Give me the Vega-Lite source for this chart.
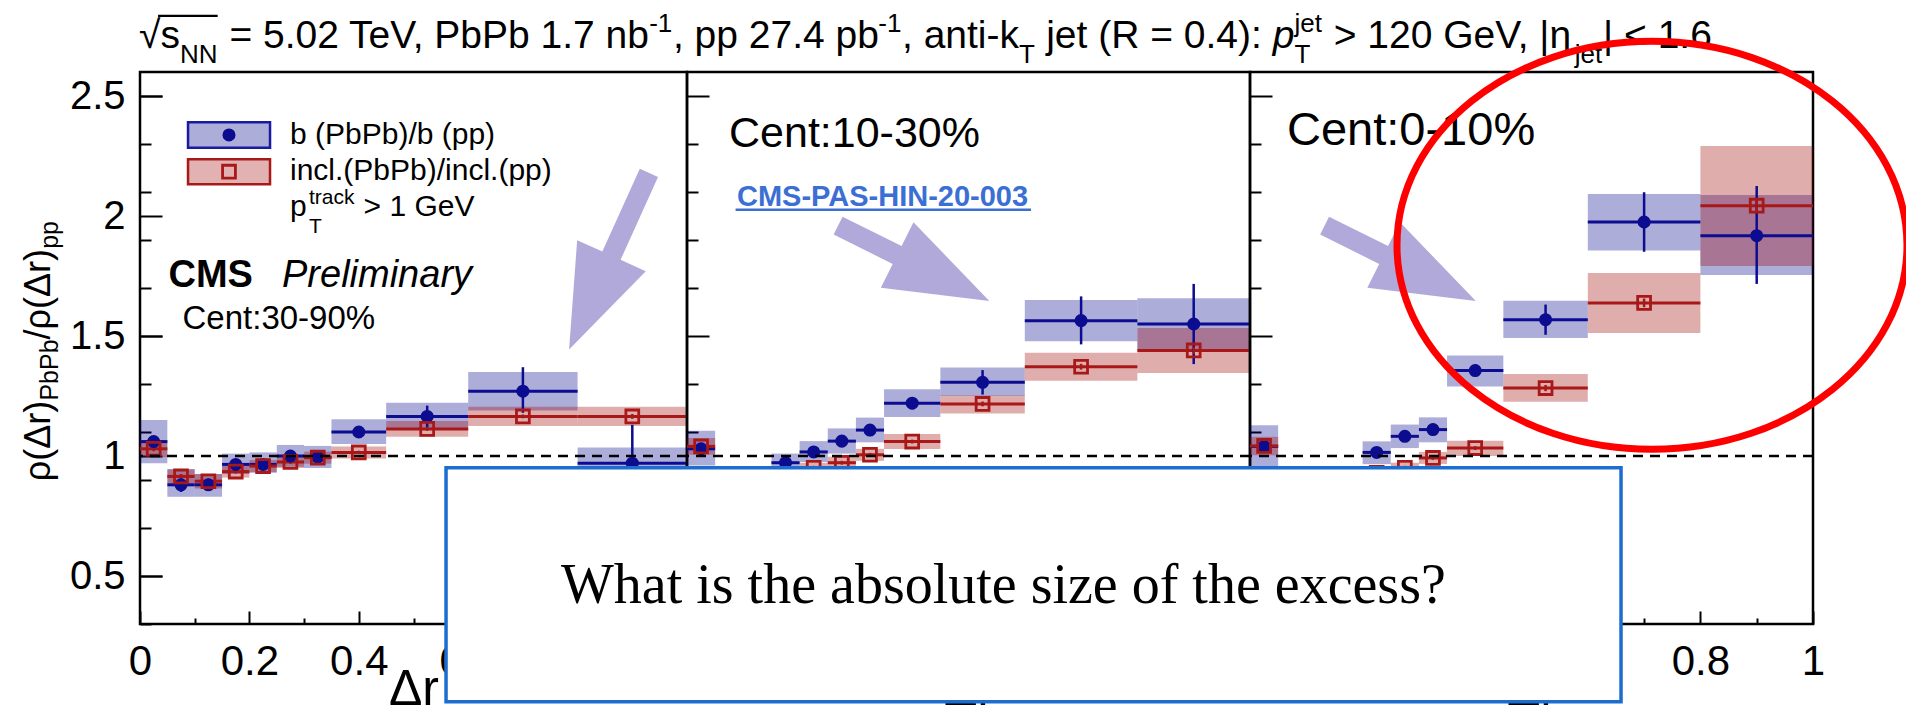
{
  "$schema": "https://vega.github.io/schema/vega-lite/v6.json",
  "background": "white",
  "padding": {"left": 19, "top": 9, "right": 0, "bottom": 0},
  "datasets": {
    "rho": [
      {"cent":"30-90%","sample":"b","x0":0,"x1":0.05,"mid":0.025,"ratio":1.06,"stat_lo":1.04,"stat_hi":1.08,"sys_lo":0.97,"sys_hi":1.15},
      {"cent":"30-90%","sample":"b","x0":0.05,"x1":0.1,"mid":0.075,"ratio":0.88,"stat_lo":0.85,"stat_hi":0.91,"sys_lo":0.83,"sys_hi":0.945},
      {"cent":"30-90%","sample":"b","x0":0.1,"x1":0.15,"mid":0.125,"ratio":0.88,"stat_lo":0.855,"stat_hi":0.905,"sys_lo":0.83,"sys_hi":0.925},
      {"cent":"30-90%","sample":"b","x0":0.15,"x1":0.2,"mid":0.175,"ratio":0.965,"stat_lo":0.945,"stat_hi":0.985,"sys_lo":0.925,"sys_hi":1.01},
      {"cent":"30-90%","sample":"b","x0":0.2,"x1":0.25,"mid":0.225,"ratio":0.965,"stat_lo":0.945,"stat_hi":0.985,"sys_lo":0.93,"sys_hi":1.015},
      {"cent":"30-90%","sample":"b","x0":0.25,"x1":0.3,"mid":0.275,"ratio":1.0,"stat_lo":0.975,"stat_hi":1.025,"sys_lo":0.955,"sys_hi":1.046},
      {"cent":"30-90%","sample":"b","x0":0.3,"x1":0.35,"mid":0.325,"ratio":0.995,"stat_lo":0.965,"stat_hi":1.025,"sys_lo":0.95,"sys_hi":1.042},
      {"cent":"30-90%","sample":"b","x0":0.35,"x1":0.45,"mid":0.4,"ratio":1.1,"stat_lo":1.075,"stat_hi":1.125,"sys_lo":1.05,"sys_hi":1.153},
      {"cent":"30-90%","sample":"b","x0":0.45,"x1":0.6,"mid":0.525,"ratio":1.165,"stat_lo":1.12,"stat_hi":1.21,"sys_lo":1.115,"sys_hi":1.222},
      {"cent":"30-90%","sample":"b","x0":0.6,"x1":0.8,"mid":0.7,"ratio":1.27,"stat_lo":1.18,"stat_hi":1.37,"sys_lo":1.19,"sys_hi":1.35},
      {"cent":"30-90%","sample":"b","x0":0.8,"x1":1.0,"mid":0.9,"ratio":0.97,"stat_lo":0.81,"stat_hi":1.13,"sys_lo":0.91,"sys_hi":1.035},
      {"cent":"30-90%","sample":"incl","x0":0,"x1":0.05,"mid":0.025,"ratio":1.03,"stat_lo":1.02,"stat_hi":1.04,"sys_lo":0.995,"sys_hi":1.065},
      {"cent":"30-90%","sample":"incl","x0":0.05,"x1":0.1,"mid":0.075,"ratio":0.915,"stat_lo":0.905,"stat_hi":0.925,"sys_lo":0.885,"sys_hi":0.945},
      {"cent":"30-90%","sample":"incl","x0":0.1,"x1":0.15,"mid":0.125,"ratio":0.895,"stat_lo":0.885,"stat_hi":0.905,"sys_lo":0.865,"sys_hi":0.925},
      {"cent":"30-90%","sample":"incl","x0":0.15,"x1":0.2,"mid":0.175,"ratio":0.935,"stat_lo":0.927,"stat_hi":0.943,"sys_lo":0.91,"sys_hi":0.96},
      {"cent":"30-90%","sample":"incl","x0":0.2,"x1":0.25,"mid":0.225,"ratio":0.958,"stat_lo":0.95,"stat_hi":0.966,"sys_lo":0.933,"sys_hi":0.983},
      {"cent":"30-90%","sample":"incl","x0":0.25,"x1":0.3,"mid":0.275,"ratio":0.975,"stat_lo":0.967,"stat_hi":0.983,"sys_lo":0.95,"sys_hi":1.0},
      {"cent":"30-90%","sample":"incl","x0":0.3,"x1":0.35,"mid":0.325,"ratio":0.993,"stat_lo":0.985,"stat_hi":1.001,"sys_lo":0.968,"sys_hi":1.018},
      {"cent":"30-90%","sample":"incl","x0":0.35,"x1":0.45,"mid":0.4,"ratio":1.015,"stat_lo":1.008,"stat_hi":1.022,"sys_lo":0.99,"sys_hi":1.04},
      {"cent":"30-90%","sample":"incl","x0":0.45,"x1":0.6,"mid":0.525,"ratio":1.113,"stat_lo":1.105,"stat_hi":1.121,"sys_lo":1.08,"sys_hi":1.146},
      {"cent":"30-90%","sample":"incl","x0":0.6,"x1":0.8,"mid":0.7,"ratio":1.165,"stat_lo":1.157,"stat_hi":1.173,"sys_lo":1.125,"sys_hi":1.205},
      {"cent":"30-90%","sample":"incl","x0":0.8,"x1":1.0,"mid":0.9,"ratio":1.165,"stat_lo":1.155,"stat_hi":1.175,"sys_lo":1.125,"sys_hi":1.205},

      {"cent":"10-30%","sample":"b","x0":0,"x1":0.05,"mid":0.025,"ratio":1.03,"stat_lo":1.01,"stat_hi":1.05,"sys_lo":0.96,"sys_hi":1.105},
      {"cent":"10-30%","sample":"b","x0":0.05,"x1":0.1,"mid":0.075,"ratio":0.88,"stat_lo":0.85,"stat_hi":0.91,"sys_lo":0.84,"sys_hi":0.92},
      {"cent":"10-30%","sample":"b","x0":0.1,"x1":0.15,"mid":0.125,"ratio":0.9,"stat_lo":0.87,"stat_hi":0.93,"sys_lo":0.865,"sys_hi":0.935},
      {"cent":"10-30%","sample":"b","x0":0.15,"x1":0.2,"mid":0.175,"ratio":0.972,"stat_lo":0.952,"stat_hi":0.992,"sys_lo":0.935,"sys_hi":1.01},
      {"cent":"10-30%","sample":"b","x0":0.2,"x1":0.25,"mid":0.225,"ratio":1.017,"stat_lo":0.997,"stat_hi":1.037,"sys_lo":0.975,"sys_hi":1.062},
      {"cent":"10-30%","sample":"b","x0":0.25,"x1":0.3,"mid":0.275,"ratio":1.062,"stat_lo":1.042,"stat_hi":1.082,"sys_lo":1.01,"sys_hi":1.115},
      {"cent":"10-30%","sample":"b","x0":0.3,"x1":0.35,"mid":0.325,"ratio":1.108,"stat_lo":1.083,"stat_hi":1.133,"sys_lo":1.057,"sys_hi":1.16},
      {"cent":"10-30%","sample":"b","x0":0.35,"x1":0.45,"mid":0.4,"ratio":1.22,"stat_lo":1.195,"stat_hi":1.245,"sys_lo":1.163,"sys_hi":1.278},
      {"cent":"10-30%","sample":"b","x0":0.45,"x1":0.6,"mid":0.525,"ratio":1.307,"stat_lo":1.256,"stat_hi":1.358,"sys_lo":1.25,"sys_hi":1.369},
      {"cent":"10-30%","sample":"b","x0":0.6,"x1":0.8,"mid":0.7,"ratio":1.564,"stat_lo":1.465,"stat_hi":1.665,"sys_lo":1.478,"sys_hi":1.65},
      {"cent":"10-30%","sample":"b","x0":0.8,"x1":1.0,"mid":0.9,"ratio":1.55,"stat_lo":1.383,"stat_hi":1.717,"sys_lo":1.44,"sys_hi":1.657},
      {"cent":"10-30%","sample":"incl","x0":0,"x1":0.05,"mid":0.025,"ratio":1.04,"stat_lo":1.03,"stat_hi":1.05,"sys_lo":1.005,"sys_hi":1.075},
      {"cent":"10-30%","sample":"incl","x0":0.05,"x1":0.1,"mid":0.075,"ratio":0.9,"stat_lo":0.89,"stat_hi":0.91,"sys_lo":0.87,"sys_hi":0.93},
      {"cent":"10-30%","sample":"incl","x0":0.1,"x1":0.15,"mid":0.125,"ratio":0.91,"stat_lo":0.9,"stat_hi":0.92,"sys_lo":0.88,"sys_hi":0.94},
      {"cent":"10-30%","sample":"incl","x0":0.15,"x1":0.2,"mid":0.175,"ratio":0.925,"stat_lo":0.917,"stat_hi":0.933,"sys_lo":0.9,"sys_hi":0.945},
      {"cent":"10-30%","sample":"incl","x0":0.2,"x1":0.25,"mid":0.225,"ratio":0.951,"stat_lo":0.943,"stat_hi":0.959,"sys_lo":0.93,"sys_hi":0.972},
      {"cent":"10-30%","sample":"incl","x0":0.25,"x1":0.3,"mid":0.275,"ratio":0.972,"stat_lo":0.964,"stat_hi":0.98,"sys_lo":0.947,"sys_hi":0.997},
      {"cent":"10-30%","sample":"incl","x0":0.3,"x1":0.35,"mid":0.325,"ratio":1.005,"stat_lo":0.997,"stat_hi":1.013,"sys_lo":0.98,"sys_hi":1.03},
      {"cent":"10-30%","sample":"incl","x0":0.35,"x1":0.45,"mid":0.4,"ratio":1.06,"stat_lo":1.052,"stat_hi":1.068,"sys_lo":1.029,"sys_hi":1.092},
      {"cent":"10-30%","sample":"incl","x0":0.45,"x1":0.6,"mid":0.525,"ratio":1.217,"stat_lo":1.207,"stat_hi":1.227,"sys_lo":1.177,"sys_hi":1.252},
      {"cent":"10-30%","sample":"incl","x0":0.6,"x1":0.8,"mid":0.7,"ratio":1.372,"stat_lo":1.36,"stat_hi":1.384,"sys_lo":1.314,"sys_hi":1.43},
      {"cent":"10-30%","sample":"incl","x0":0.8,"x1":1.0,"mid":0.9,"ratio":1.44,"stat_lo":1.425,"stat_hi":1.455,"sys_lo":1.346,"sys_hi":1.533},

      {"cent":"0-10%","sample":"b","x0":0,"x1":0.05,"mid":0.025,"ratio":1.04,"stat_lo":1.02,"stat_hi":1.06,"sys_lo":0.955,"sys_hi":1.128},
      {"cent":"0-10%","sample":"b","x0":0.05,"x1":0.1,"mid":0.075,"ratio":0.87,"stat_lo":0.84,"stat_hi":0.9,"sys_lo":0.83,"sys_hi":0.91},
      {"cent":"0-10%","sample":"b","x0":0.1,"x1":0.15,"mid":0.125,"ratio":0.9,"stat_lo":0.87,"stat_hi":0.93,"sys_lo":0.865,"sys_hi":0.935},
      {"cent":"0-10%","sample":"b","x0":0.15,"x1":0.2,"mid":0.175,"ratio":0.915,"stat_lo":0.895,"stat_hi":0.935,"sys_lo":0.885,"sys_hi":0.945},
      {"cent":"0-10%","sample":"b","x0":0.2,"x1":0.25,"mid":0.225,"ratio":1.015,"stat_lo":0.995,"stat_hi":1.035,"sys_lo":0.966,"sys_hi":1.061},
      {"cent":"0-10%","sample":"b","x0":0.25,"x1":0.3,"mid":0.275,"ratio":1.082,"stat_lo":1.062,"stat_hi":1.102,"sys_lo":1.033,"sys_hi":1.131},
      {"cent":"0-10%","sample":"b","x0":0.3,"x1":0.35,"mid":0.325,"ratio":1.11,"stat_lo":1.085,"stat_hi":1.135,"sys_lo":1.057,"sys_hi":1.161},
      {"cent":"0-10%","sample":"b","x0":0.35,"x1":0.45,"mid":0.4,"ratio":1.356,"stat_lo":1.331,"stat_hi":1.381,"sys_lo":1.29,"sys_hi":1.419},
      {"cent":"0-10%","sample":"b","x0":0.45,"x1":0.6,"mid":0.525,"ratio":1.568,"stat_lo":1.505,"stat_hi":1.631,"sys_lo":1.492,"sys_hi":1.647},
      {"cent":"0-10%","sample":"b","x0":0.6,"x1":0.8,"mid":0.7,"ratio":1.975,"stat_lo":1.851,"stat_hi":2.099,"sys_lo":1.856,"sys_hi":2.092},
      {"cent":"0-10%","sample":"b","x0":0.8,"x1":1.0,"mid":0.9,"ratio":1.918,"stat_lo":1.717,"stat_hi":2.125,"sys_lo":1.754,"sys_hi":2.088},
      {"cent":"0-10%","sample":"incl","x0":0,"x1":0.05,"mid":0.025,"ratio":1.042,"stat_lo":1.032,"stat_hi":1.052,"sys_lo":1.003,"sys_hi":1.08},
      {"cent":"0-10%","sample":"incl","x0":0.05,"x1":0.1,"mid":0.075,"ratio":0.9,"stat_lo":0.89,"stat_hi":0.91,"sys_lo":0.87,"sys_hi":0.93},
      {"cent":"0-10%","sample":"incl","x0":0.1,"x1":0.15,"mid":0.125,"ratio":0.91,"stat_lo":0.9,"stat_hi":0.92,"sys_lo":0.88,"sys_hi":0.94},
      {"cent":"0-10%","sample":"incl","x0":0.15,"x1":0.2,"mid":0.175,"ratio":0.92,"stat_lo":0.912,"stat_hi":0.928,"sys_lo":0.895,"sys_hi":0.945},
      {"cent":"0-10%","sample":"incl","x0":0.2,"x1":0.25,"mid":0.225,"ratio":0.93,"stat_lo":0.922,"stat_hi":0.938,"sys_lo":0.91,"sys_hi":0.95},
      {"cent":"0-10%","sample":"incl","x0":0.25,"x1":0.3,"mid":0.275,"ratio":0.951,"stat_lo":0.943,"stat_hi":0.959,"sys_lo":0.93,"sys_hi":0.972},
      {"cent":"0-10%","sample":"incl","x0":0.3,"x1":0.35,"mid":0.325,"ratio":0.992,"stat_lo":0.984,"stat_hi":1.0,"sys_lo":0.967,"sys_hi":1.017},
      {"cent":"0-10%","sample":"incl","x0":0.35,"x1":0.45,"mid":0.4,"ratio":1.033,"stat_lo":1.025,"stat_hi":1.041,"sys_lo":1.0,"sys_hi":1.064},
      {"cent":"0-10%","sample":"incl","x0":0.45,"x1":0.6,"mid":0.525,"ratio":1.283,"stat_lo":1.27,"stat_hi":1.296,"sys_lo":1.226,"sys_hi":1.342},
      {"cent":"0-10%","sample":"incl","x0":0.6,"x1":0.8,"mid":0.7,"ratio":1.638,"stat_lo":1.62,"stat_hi":1.656,"sys_lo":1.513,"sys_hi":1.762},
      {"cent":"0-10%","sample":"incl","x0":0.8,"x1":1.0,"mid":0.9,"ratio":2.043,"stat_lo":2.02,"stat_hi":2.066,"sys_lo":1.792,"sys_hi":2.292}
    ]
  },
  "hconcat": [
    {
      "width": 547, "height": 552,
      "resolve": {"axis": {"y": "independent"}},
      "layer": [
        {
          "data": {"name": "rho"},
          "transform": [{"filter": {"field": "cent", "equal": "30-90%"}}],
          "layer": [
            {"mark": {"type": "rect", "fillOpacity": 0.32, "strokeWidth": 0},
             "encoding": {
               "x": {"field": "x0", "type": "quantitative", "scale": {"domain": [0, 1], "nice": false, "zero": false}, "title": "Δr",
                     "axis": {"values": [0,0.05,0.1,0.15,0.2,0.25,0.3,0.35,0.4,0.45,0.5,0.55,0.6,0.65,0.7,0.75,0.8,0.85,0.9,0.95,1], "format": "~g",
                              "labelExpr": "abs(datum.value*5-round(datum.value*5))<0.001 ? datum.label : ''",
                              "labelFontSize": {"condition": {"test": "abs(datum.value*5-round(datum.value*5))<0.001", "value": 42}, "value": 1},
                              "tickSize": {"condition": {"test": "abs(datum.value*5-round(datum.value*5))<0.001", "value": -13}, "value": -6},
                              "labelPadding": 30, "labelFlush": false, "labelOverlap": false, "labelBound": false,
                              "titleFontSize": 50, "titleY": 80, "titleBaseline": "alphabetic"}},
               "x2": {"field": "x1"},
               "y": {"field": "sys_lo", "type": "quantitative", "scale": {"domain": [0.3, 2.6], "nice": false, "zero": false}, "title": null,
                     "axis": {"orient": "left", "values": [0.3,0.4,0.5,0.6,0.7,0.8,0.9,1,1.1,1.2,1.3,1.4,1.5,1.6,1.7,1.8,1.9,2,2.1,2.2,2.3,2.4,2.5,2.6],
                              "labels": false,
                              "tickSize": {"condition": {"test": "abs(datum.value*2-round(datum.value*2))<0.001", "value": -22}, "value": -11}}},
               "y2": {"field": "sys_hi"},
               "fill": {"field": "sample", "type": "nominal", "scale": {"domain": ["b", "incl"], "range": ["#00008b", "#a00000"]}, "legend": null}}},
            {"mark": {"type": "rule", "strokeWidth": 3},
             "encoding": {
               "x": {"field": "x0", "type": "quantitative", "title": "Δr"}, "x2": {"field": "x1"},
               "y": {"field": "ratio", "type": "quantitative", "title": null},
               "color": {"field": "sample", "type": "nominal", "scale": {"domain": ["b", "incl"], "range": ["#0c0c90", "#a81818"]}, "legend": null}}},
            {"mark": {"type": "rule", "strokeWidth": 2.5},
             "encoding": {
               "x": {"field": "mid", "type": "quantitative", "title": "Δr"},
               "y": {"field": "stat_lo", "type": "quantitative", "title": null}, "y2": {"field": "stat_hi"},
               "color": {"field": "sample", "type": "nominal", "legend": null}}},
            {"transform": [{"filter": {"field": "sample", "equal": "b"}}],
             "mark": {"type": "point", "shape": "circle", "filled": true, "size": 170, "opacity": 1, "color": "#0c0c90"},
             "encoding": {"x": {"field": "mid", "type": "quantitative", "title": "Δr"}, "y": {"field": "ratio", "type": "quantitative", "title": null}}},
            {"transform": [{"filter": {"field": "sample", "equal": "incl"}}],
             "mark": {"type": "point", "shape": "square", "filled": false, "size": 165, "opacity": 1, "strokeWidth": 2.8, "color": "#a81818"},
             "encoding": {"x": {"field": "mid", "type": "quantitative", "title": "Δr"}, "y": {"field": "ratio", "type": "quantitative", "title": null}}},

            {"data": {"values": [{"note": "arrow"}]},
             "mark": {"type": "point", "shape": "M0,-1L0.388,0.062L0.103,0.062L0.103,1L-0.103,1L-0.103,0.062L-0.388,0.062Z", "filled": true, "fill": "#b1a9d9", "strokeWidth": 0, "size": 37636, "angle": 204.3, "opacity": 1},
             "encoding": {"x": {"datum": 0.8574, "type": "quantitative"}, "y": {"datum": 1.8117, "type": "quantitative"}}},

            {"data": {"values": [{"note": "legend b"}]},
             "mark": {"type": "rect", "fill": "#00008b", "fillOpacity": 0.32, "stroke": "#1a1aa0", "strokeWidth": 2.5},
             "encoding": {"x": {"datum": 0.0878, "type": "quantitative"}, "x2": {"datum": 0.2377}, "y": {"datum": 2.2845, "type": "quantitative"}, "y2": {"datum": 2.391}}},
            {"data": {"values": [{"note": "legend incl"}]},
             "mark": {"type": "rect", "fill": "#a00000", "fillOpacity": 0.3, "stroke": "#a81818", "strokeWidth": 2.5},
             "encoding": {"x": {"datum": 0.0878, "type": "quantitative"}, "x2": {"datum": 0.2377}, "y": {"datum": 2.1325, "type": "quantitative"}, "y2": {"datum": 2.2367}}},
            {"data": {"values": [{"note": "legend b marker"}]},
             "mark": {"type": "point", "shape": "circle", "filled": true, "size": 170, "opacity": 1, "color": "#0c0c90"},
             "encoding": {"x": {"datum": 0.1627, "type": "quantitative"}, "y": {"datum": 2.3377, "type": "quantitative"}}},
            {"data": {"values": [{"note": "legend incl marker"}]},
             "mark": {"type": "point", "shape": "square", "filled": false, "size": 165, "opacity": 1, "strokeWidth": 2.8, "color": "#a81818"},
             "encoding": {"x": {"datum": 0.1627, "type": "quantitative"}, "y": {"datum": 2.1846, "type": "quantitative"}}},
            {"data": {"values": [{"label": "b (PbPb)/b (pp)"}]},
             "mark": {"type": "text", "align": "left", "baseline": "alphabetic", "fontSize": 30, "font": "Liberation Sans", "color": "black"},
             "encoding": {"text": {"field": "label", "type": "nominal"}, "x": {"datum": 0.2742, "type": "quantitative"}, "y": {"datum": 2.3013, "type": "quantitative"}}},
            {"data": {"values": [{"label": "incl.(PbPb)/incl.(pp)"}]},
             "mark": {"type": "text", "align": "left", "baseline": "alphabetic", "fontSize": 30, "font": "Liberation Sans", "color": "black"},
             "encoding": {"text": {"field": "label", "type": "nominal"}, "x": {"datum": 0.2742, "type": "quantitative"}, "y": {"datum": 2.1513, "type": "quantitative"}}},
            {"data": {"values": [{"label": "p"}]},
             "mark": {"type": "text", "align": "left", "baseline": "alphabetic", "fontSize": 30, "font": "Liberation Sans", "color": "black"},
             "encoding": {"text": {"field": "label", "type": "nominal"}, "x": {"datum": 0.2742, "type": "quantitative"}, "y": {"datum": 2.0013, "type": "quantitative"}}},
            {"data": {"values": [{"label": "track"}]},
             "mark": {"type": "text", "align": "left", "baseline": "alphabetic", "fontSize": 21, "font": "Liberation Sans", "color": "black"},
             "encoding": {"text": {"field": "label", "type": "nominal"}, "x": {"datum": 0.309, "type": "quantitative"}, "y": {"datum": 2.0488, "type": "quantitative"}}},
            {"data": {"values": [{"label": "T"}]},
             "mark": {"type": "text", "align": "left", "baseline": "alphabetic", "fontSize": 21, "font": "Liberation Sans", "color": "black"},
             "encoding": {"text": {"field": "label", "type": "nominal"}, "x": {"datum": 0.309, "type": "quantitative"}, "y": {"datum": 1.93, "type": "quantitative"}}},
            {"data": {"values": [{"label": "> 1 GeV"}]},
             "mark": {"type": "text", "align": "left", "baseline": "alphabetic", "fontSize": 30, "font": "Liberation Sans", "color": "black"},
             "encoding": {"text": {"field": "label", "type": "nominal"}, "x": {"datum": 0.4088, "type": "quantitative"}, "y": {"datum": 2.0013, "type": "quantitative"}}},
            {"data": {"values": [{"label": "CMS"}]},
             "mark": {"type": "text", "align": "left", "baseline": "alphabetic", "fontSize": 38, "fontWeight": "bold", "font": "Liberation Sans", "color": "black"},
             "encoding": {"text": {"field": "label", "type": "nominal"}, "x": {"datum": 0.0521, "type": "quantitative"}, "y": {"datum": 1.7054, "type": "quantitative"}}},
            {"data": {"values": [{"label": "Preliminary"}]},
             "mark": {"type": "text", "align": "left", "baseline": "alphabetic", "fontSize": 38, "fontStyle": "italic", "font": "Liberation Sans", "color": "black"},
             "encoding": {"text": {"field": "label", "type": "nominal"}, "x": {"datum": 0.2596, "type": "quantitative"}, "y": {"datum": 1.7054, "type": "quantitative"}}},
            {"data": {"values": [{"label": "Cent:30-90%"}]},
             "mark": {"type": "text", "align": "left", "baseline": "alphabetic", "fontSize": 33, "font": "Liberation Sans", "color": "black"},
             "encoding": {"text": {"field": "label", "type": "nominal"}, "x": {"datum": 0.0777, "type": "quantitative"}, "y": {"datum": 1.5275, "type": "quantitative"}}},

            {"data": {"values": [{"label": "√"}]},
             "mark": {"type": "text", "align": "left", "baseline": "alphabetic", "fontSize": 39, "font": "Liberation Sans", "color": "black"},
             "encoding": {"text": {"field": "label", "type": "nominal"}, "x": {"datum": -0.0018, "type": "quantitative"}, "y": {"datum": 2.6988, "type": "quantitative"}}},
            {"data": {"values": [{"note": "radical bar"}]},
             "mark": {"type": "rule", "strokeWidth": 2.2, "color": "black"},
             "encoding": {"x": {"datum": 0.033, "type": "quantitative"}, "x2": {"datum": 0.142}, "y": {"datum": 2.834, "type": "quantitative"}}},
            {"data": {"values": [{"label": "s"}]},
             "mark": {"type": "text", "align": "left", "baseline": "alphabetic", "fontSize": 39, "font": "Liberation Sans", "color": "black"},
             "encoding": {"text": {"field": "label", "type": "nominal"}, "x": {"datum": 0.0377, "type": "quantitative"}, "y": {"datum": 2.6988, "type": "quantitative"}}},
            {"data": {"values": [{"label": "NN"}]},
             "mark": {"type": "text", "align": "left", "baseline": "alphabetic", "fontSize": 26, "font": "Liberation Sans", "color": "black"},
             "encoding": {"text": {"field": "label", "type": "nominal"}, "x": {"datum": 0.0733, "type": "quantitative"}, "y": {"datum": 2.6362, "type": "quantitative"}}},
            {"data": {"values": [{"label": "= 5.02 TeV, PbPb 1.7 nb"}]},
             "mark": {"type": "text", "align": "left", "baseline": "alphabetic", "fontSize": 39, "font": "Liberation Sans", "color": "black"},
             "encoding": {"text": {"field": "label", "type": "nominal"}, "x": {"datum": 0.1634, "type": "quantitative"}, "y": {"datum": 2.6988, "type": "quantitative"}}},
            {"data": {"values": [{"label": "-1"}]},
             "mark": {"type": "text", "align": "left", "baseline": "alphabetic", "fontSize": 26, "font": "Liberation Sans", "color": "black"},
             "encoding": {"text": {"field": "label", "type": "nominal"}, "x": {"datum": 0.9308, "type": "quantitative"}, "y": {"datum": 2.767, "type": "quantitative"}}},
            {"data": {"values": [{"label": ", pp 27.4 pb"}]},
             "mark": {"type": "text", "align": "left", "baseline": "alphabetic", "fontSize": 39, "font": "Liberation Sans", "color": "black"},
             "encoding": {"text": {"field": "label", "type": "nominal"}, "x": {"datum": 0.9743, "type": "quantitative"}, "y": {"datum": 2.6988, "type": "quantitative"}}},
            {"data": {"values": [{"label": "-1"}]},
             "mark": {"type": "text", "align": "left", "baseline": "alphabetic", "fontSize": 26, "font": "Liberation Sans", "color": "black"},
             "encoding": {"text": {"field": "label", "type": "nominal"}, "x": {"datum": 1.3496, "type": "quantitative"}, "y": {"datum": 2.767, "type": "quantitative"}}},
            {"data": {"values": [{"label": ", anti-k"}]},
             "mark": {"type": "text", "align": "left", "baseline": "alphabetic", "fontSize": 39, "font": "Liberation Sans", "color": "black"},
             "encoding": {"text": {"field": "label", "type": "nominal"}, "x": {"datum": 1.393, "type": "quantitative"}, "y": {"datum": 2.6988, "type": "quantitative"}}},
            {"data": {"values": [{"label": "T"}]},
             "mark": {"type": "text", "align": "left", "baseline": "alphabetic", "fontSize": 26, "font": "Liberation Sans", "color": "black"},
             "encoding": {"text": {"field": "label", "type": "nominal"}, "x": {"datum": 1.607, "type": "quantitative"}, "y": {"datum": 2.6362, "type": "quantitative"}}},
            {"data": {"values": [{"label": "jet (R = 0.4):"}]},
             "mark": {"type": "text", "align": "left", "baseline": "alphabetic", "fontSize": 39, "font": "Liberation Sans", "color": "black"},
             "encoding": {"text": {"field": "label", "type": "nominal"}, "x": {"datum": 1.6566, "type": "quantitative"}, "y": {"datum": 2.6988, "type": "quantitative"}}},
            {"data": {"values": [{"label": "p"}]},
             "mark": {"type": "text", "align": "left", "baseline": "alphabetic", "fontSize": 39, "fontStyle": "italic", "font": "Liberation Sans", "color": "black"},
             "encoding": {"text": {"field": "label", "type": "nominal"}, "x": {"datum": 2.071, "type": "quantitative"}, "y": {"datum": 2.6988, "type": "quantitative"}}},
            {"data": {"values": [{"label": "jet"}]},
             "mark": {"type": "text", "align": "left", "baseline": "alphabetic", "fontSize": 26, "font": "Liberation Sans", "color": "black"},
             "encoding": {"text": {"field": "label", "type": "nominal"}, "x": {"datum": 2.1107, "type": "quantitative"}, "y": {"datum": 2.767, "type": "quantitative"}}},
            {"data": {"values": [{"label": "T"}]},
             "mark": {"type": "text", "align": "left", "baseline": "alphabetic", "fontSize": 26, "font": "Liberation Sans", "color": "black"},
             "encoding": {"text": {"field": "label", "type": "nominal"}, "x": {"datum": 2.1107, "type": "quantitative"}, "y": {"datum": 2.6362, "type": "quantitative"}}},
            {"data": {"values": [{"label": "> 120 GeV, |η"}]},
             "mark": {"type": "text", "align": "left", "baseline": "alphabetic", "fontSize": 39, "font": "Liberation Sans", "color": "black"},
             "encoding": {"text": {"field": "label", "type": "nominal"}, "x": {"datum": 2.1822, "type": "quantitative"}, "y": {"datum": 2.6988, "type": "quantitative"}}},
            {"data": {"values": [{"label": "jet"}]},
             "mark": {"type": "text", "align": "left", "baseline": "alphabetic", "fontSize": 26, "font": "Liberation Sans", "color": "black"},
             "encoding": {"text": {"field": "label", "type": "nominal"}, "x": {"datum": 2.6231, "type": "quantitative"}, "y": {"datum": 2.6362, "type": "quantitative"}}},
            {"data": {"values": [{"label": "| < 1.6"}]},
             "mark": {"type": "text", "align": "left", "baseline": "alphabetic", "fontSize": 39, "font": "Liberation Sans", "color": "black"},
             "encoding": {"text": {"field": "label", "type": "nominal"}, "x": {"datum": 2.6747, "type": "quantitative"}, "y": {"datum": 2.6988, "type": "quantitative"}}},

            {"data": {"values": [{"label": "ρ(Δr)"}]},
             "mark": {"type": "text", "align": "left", "baseline": "alphabetic", "angle": 270, "fontSize": 36, "font": "Liberation Sans", "color": "black"},
             "encoding": {"text": {"field": "label", "type": "nominal"}, "x": {"datum": -0.165, "type": "quantitative"}, "y": {"datum": 0.895, "type": "quantitative"}}},
            {"data": {"values": [{"label": "PbPb"}]},
             "mark": {"type": "text", "align": "left", "baseline": "alphabetic", "angle": 270, "fontSize": 25, "font": "Liberation Sans", "color": "black"},
             "encoding": {"text": {"field": "label", "type": "nominal"}, "x": {"datum": -0.149, "type": "quantitative"}, "y": {"datum": 1.2308, "type": "quantitative"}}},
            {"data": {"values": [{"label": "/ρ(Δr)"}]},
             "mark": {"type": "text", "align": "left", "baseline": "alphabetic", "angle": 270, "fontSize": 36, "font": "Liberation Sans", "color": "black"},
             "encoding": {"text": {"field": "label", "type": "nominal"}, "x": {"datum": -0.165, "type": "quantitative"}, "y": {"datum": 1.4858, "type": "quantitative"}}},
            {"data": {"values": [{"label": "pp"}]},
             "mark": {"type": "text", "align": "left", "baseline": "alphabetic", "angle": 270, "fontSize": 25, "font": "Liberation Sans", "color": "black"},
             "encoding": {"text": {"field": "label", "type": "nominal"}, "x": {"datum": -0.149, "type": "quantitative"}, "y": {"datum": 1.8633, "type": "quantitative"}}}
          ]
        },
        {"data": {"values": [{"note": "unity"}]},
         "mark": {"type": "rule", "strokeDash": [10, 7], "strokeWidth": 2.5, "color": "black"},
         "encoding": {"y": {"datum": 1, "type": "quantitative", "scale": {"domain": [0.3, 2.6], "nice": false, "zero": false}, "title": null,
                            "axis": {"orient": "left", "values": [0.5, 1, 1.5, 2, 2.5], "format": "~g", "tickSize": -22, "labelPadding": 37,
                                     "labelFontSize": 40, "labelOverlap": false, "labelFlush": false, "labelBound": false}}}}
      ]
    },
    {
      "width": 563, "height": 552,
      "data": {"name": "rho"},
      "transform": [{"filter": {"field": "cent", "equal": "10-30%"}}],
      "layer": [
        {"mark": {"type": "rect", "fillOpacity": 0.32, "strokeWidth": 0},
         "encoding": {
           "x": {"field": "x0", "type": "quantitative", "scale": {"domain": [0, 1], "nice": false, "zero": false}, "title": "Δr",
                 "axis": {"values": [0,0.05,0.1,0.15,0.2,0.25,0.3,0.35,0.4,0.45,0.5,0.55,0.6,0.65,0.7,0.75,0.8,0.85,0.9,0.95,1], "format": "~g",
                          "labelExpr": "abs(datum.value*5-round(datum.value*5))<0.001 ? datum.label : ''",
                          "labelFontSize": {"condition": {"test": "abs(datum.value*5-round(datum.value*5))<0.001", "value": 42}, "value": 1},
                          "tickSize": {"condition": {"test": "abs(datum.value*5-round(datum.value*5))<0.001", "value": -13}, "value": -6},
                          "labelPadding": 30, "labelFlush": false, "labelOverlap": false, "labelBound": false,
                          "titleFontSize": 50, "titleY": 80, "titleBaseline": "alphabetic"}},
           "x2": {"field": "x1"},
           "y": {"field": "sys_lo", "type": "quantitative", "scale": {"domain": [0.3, 2.6], "nice": false, "zero": false}, "title": null,
                 "axis": {"values": [0.3,0.4,0.5,0.6,0.7,0.8,0.9,1,1.1,1.2,1.3,1.4,1.5,1.6,1.7,1.8,1.9,2,2.1,2.2,2.3,2.4,2.5,2.6],
                          "labels": false,
                          "tickSize": {"condition": {"test": "abs(datum.value*2-round(datum.value*2))<0.001", "value": -22}, "value": -11}}},
           "y2": {"field": "sys_hi"},
           "fill": {"field": "sample", "type": "nominal", "scale": {"domain": ["b", "incl"], "range": ["#00008b", "#a00000"]}, "legend": null}}},
        {"mark": {"type": "rule", "strokeWidth": 3},
         "encoding": {
           "x": {"field": "x0", "type": "quantitative", "title": "Δr"}, "x2": {"field": "x1"},
           "y": {"field": "ratio", "type": "quantitative", "title": null},
           "color": {"field": "sample", "type": "nominal", "scale": {"domain": ["b", "incl"], "range": ["#0c0c90", "#a81818"]}, "legend": null}}},
        {"mark": {"type": "rule", "strokeWidth": 2.5},
         "encoding": {
           "x": {"field": "mid", "type": "quantitative", "title": "Δr"},
           "y": {"field": "stat_lo", "type": "quantitative", "title": null}, "y2": {"field": "stat_hi"},
           "color": {"field": "sample", "type": "nominal", "legend": null}}},
        {"transform": [{"filter": {"field": "sample", "equal": "b"}}],
         "mark": {"type": "point", "shape": "circle", "filled": true, "size": 170, "opacity": 1, "color": "#0c0c90"},
         "encoding": {"x": {"field": "mid", "type": "quantitative", "title": "Δr"}, "y": {"field": "ratio", "type": "quantitative", "title": null}}},
        {"transform": [{"filter": {"field": "sample", "equal": "incl"}}],
         "mark": {"type": "point", "shape": "square", "filled": false, "size": 165, "opacity": 1, "strokeWidth": 2.8, "color": "#a81818"},
         "encoding": {"x": {"field": "mid", "type": "quantitative", "title": "Δr"}, "y": {"field": "ratio", "type": "quantitative", "title": null}}},
        {"data": {"values": [{"note": "unity"}]},
         "mark": {"type": "rule", "strokeDash": [10, 7], "strokeWidth": 2.5, "color": "black"},
         "encoding": {"y": {"datum": 1, "type": "quantitative"}}},
        {"data": {"values": [{"note": "arrow"}]},
         "mark": {"type": "point", "shape": "M0,-1L0.433,0.219L0.118,0.219L0.118,1L-0.118,1L-0.118,0.219L-0.433,0.219Z", "filled": true, "fill": "#b1a9d9", "strokeWidth": 0, "size": 28561, "angle": 116.5, "opacity": 1},
         "encoding": {"x": {"datum": 0.4027, "type": "quantitative"}, "y": {"datum": 1.803, "type": "quantitative"}}},
        {"data": {"values": [{"label": "Cent:10-30%"}]},
         "mark": {"type": "text", "align": "left", "baseline": "alphabetic", "fontSize": 43, "font": "Liberation Sans", "color": "black"},
         "encoding": {"text": {"field": "label", "type": "nominal"}, "x": {"datum": 0.0746, "type": "quantitative"}, "y": {"datum": 2.2875, "type": "quantitative"}}},
        {"data": {"values": [{"label": "CMS-PAS-HIN-20-003"}]},
         "mark": {"type": "text", "align": "left", "baseline": "alphabetic", "fontSize": 29, "fontWeight": "bold", "font": "Liberation Sans", "color": "#3b6fd4"},
         "encoding": {"text": {"field": "label", "type": "nominal"}, "x": {"datum": 0.0888, "type": "quantitative"}, "y": {"datum": 2.0417, "type": "quantitative"}}},
        {"data": {"values": [{"note": "link underline"}]},
         "mark": {"type": "rule", "strokeWidth": 2.5, "color": "#3b6fd4"},
         "encoding": {"x": {"datum": 0.0863, "type": "quantitative"}, "x2": {"datum": 0.611}, "y": {"datum": 2.0263, "type": "quantitative"}}}
      ]
    },
    {
      "width": 563, "height": 552,
      "data": {"name": "rho"},
      "transform": [{"filter": {"field": "cent", "equal": "0-10%"}}],
      "layer": [
        {"mark": {"type": "rect", "fillOpacity": 0.32, "strokeWidth": 0},
         "encoding": {
           "x": {"field": "x0", "type": "quantitative", "scale": {"domain": [0, 1], "nice": false, "zero": false}, "title": "Δr",
                 "axis": {"values": [0,0.05,0.1,0.15,0.2,0.25,0.3,0.35,0.4,0.45,0.5,0.55,0.6,0.65,0.7,0.75,0.8,0.85,0.9,0.95,1], "format": "~g",
                          "labelExpr": "abs(datum.value*5-round(datum.value*5))<0.001 ? datum.label : ''",
                          "labelFontSize": {"condition": {"test": "abs(datum.value*5-round(datum.value*5))<0.001", "value": 42}, "value": 1},
                          "tickSize": {"condition": {"test": "abs(datum.value*5-round(datum.value*5))<0.001", "value": -13}, "value": -6},
                          "labelPadding": 30, "labelFlush": false, "labelOverlap": false, "labelBound": false,
                          "titleFontSize": 50, "titleY": 80, "titleBaseline": "alphabetic"}},
           "x2": {"field": "x1"},
           "y": {"field": "sys_lo", "type": "quantitative", "scale": {"domain": [0.3, 2.6], "nice": false, "zero": false}, "title": null,
                 "axis": {"values": [0.3,0.4,0.5,0.6,0.7,0.8,0.9,1,1.1,1.2,1.3,1.4,1.5,1.6,1.7,1.8,1.9,2,2.1,2.2,2.3,2.4,2.5,2.6],
                          "labels": false,
                          "tickSize": {"condition": {"test": "abs(datum.value*2-round(datum.value*2))<0.001", "value": -22}, "value": -11}}},
           "y2": {"field": "sys_hi"},
           "fill": {"field": "sample", "type": "nominal", "scale": {"domain": ["b", "incl"], "range": ["#00008b", "#a00000"]}, "legend": null}}},
        {"mark": {"type": "rule", "strokeWidth": 3},
         "encoding": {
           "x": {"field": "x0", "type": "quantitative", "title": "Δr"}, "x2": {"field": "x1"},
           "y": {"field": "ratio", "type": "quantitative", "title": null},
           "color": {"field": "sample", "type": "nominal", "scale": {"domain": ["b", "incl"], "range": ["#0c0c90", "#a81818"]}, "legend": null}}},
        {"mark": {"type": "rule", "strokeWidth": 2.5},
         "encoding": {
           "x": {"field": "mid", "type": "quantitative", "title": "Δr"},
           "y": {"field": "stat_lo", "type": "quantitative", "title": null}, "y2": {"field": "stat_hi"},
           "color": {"field": "sample", "type": "nominal", "legend": null}}},
        {"transform": [{"filter": {"field": "sample", "equal": "b"}}],
         "mark": {"type": "point", "shape": "circle", "filled": true, "size": 170, "opacity": 1, "color": "#0c0c90"},
         "encoding": {"x": {"field": "mid", "type": "quantitative", "title": "Δr"}, "y": {"field": "ratio", "type": "quantitative", "title": null}}},
        {"transform": [{"filter": {"field": "sample", "equal": "incl"}}],
         "mark": {"type": "point", "shape": "square", "filled": false, "size": 165, "opacity": 1, "strokeWidth": 2.8, "color": "#a81818"},
         "encoding": {"x": {"field": "mid", "type": "quantitative", "title": "Δr"}, "y": {"field": "ratio", "type": "quantitative", "title": null}}},
        {"data": {"values": [{"note": "unity"}]},
         "mark": {"type": "rule", "strokeDash": [10, 7], "strokeWidth": 2.5, "color": "black"},
         "encoding": {"y": {"datum": 1, "type": "quantitative"}}},
        {"data": {"values": [{"note": "arrow"}]},
         "mark": {"type": "point", "shape": "M0,-1L0.433,0.219L0.118,0.219L0.118,1L-0.118,1L-0.118,0.219L-0.433,0.219Z", "filled": true, "fill": "#b1a9d9", "strokeWidth": 0, "size": 28561, "angle": 116.5, "opacity": 1},
         "encoding": {"x": {"datum": 0.2668, "type": "quantitative"}, "y": {"datum": 1.803, "type": "quantitative"}}},
        {"data": {"values": [{"label": "Cent:0-10%"}]},
         "mark": {"type": "text", "align": "left", "baseline": "alphabetic", "fontSize": 47, "font": "Liberation Sans", "color": "black"},
         "encoding": {"text": {"field": "label", "type": "nominal"}, "x": {"datum": 0.0657, "type": "quantitative"}, "y": {"datum": 2.2958, "type": "quantitative"}}},
        {"data": {"values": [{"note": "highlight ring"}]},
         "mark": {"type": "point", "shape": "M-1,0A1,0.8,0,1,0,1,0A1,0.8,0,1,0,-1,0Z", "filled": false, "stroke": "#ff0000", "strokeWidth": 7, "size": 260100, "opacity": 1},
         "encoding": {"x": {"datum": 0.714, "type": "quantitative"}, "y": {"datum": 1.878, "type": "quantitative"}}},
        {"data": {"values": [{"note": "question box"}]},
         "mark": {"type": "rect", "fill": "white", "stroke": "#1c6dd0", "strokeWidth": 3.5},
         "encoding": {"x": {"datum": -1.428, "type": "quantitative"}, "x2": {"datum": 0.659}, "y": {"datum": -0.0238, "type": "quantitative"}, "y2": {"datum": 0.951}}},
        {"data": {"values": [{"label": "What is the absolute size of the excess?"}]},
         "mark": {"type": "text", "align": "left", "baseline": "alphabetic", "fontSize": 56, "font": "Liberation Serif", "color": "black"},
         "encoding": {"text": {"field": "label", "type": "nominal"}, "x": {"datum": -1.2238, "type": "quantitative"}, "y": {"datum": 0.3888, "type": "quantitative"}}}
      ]
    }
  ],
  "spacing": 0,
  "bounds": "flush",
  "resolve": {"scale": {"x": "independent", "y": "independent"}},
  "config": {
    "view": {"stroke": "black", "strokeWidth": 2.5},
    "axis": {"domain": false, "grid": false, "tickColor": "black", "tickWidth": 2, "labelFont": "Liberation Sans", "labelColor": "black", "titleFont": "Liberation Sans", "titleFontWeight": "normal", "titleColor": "black"},
    "text": {"font": "Liberation Sans"}
  }
}
